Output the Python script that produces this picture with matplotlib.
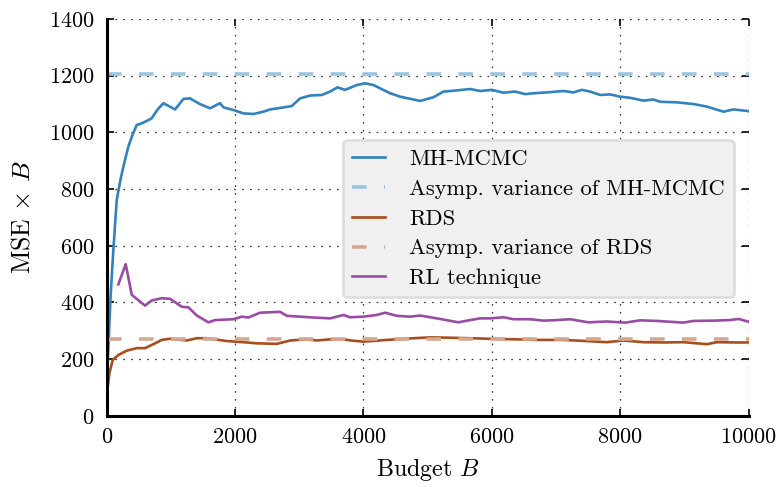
import matplotlib
matplotlib.use("Agg")
import matplotlib.pyplot as plt

plt.rcParams['font.family'] = ['cmr10', 'DejaVu Serif']
plt.rcParams['mathtext.fontset'] = 'cm'
plt.rcParams['axes.unicode_minus'] = False
plt.rcParams['axes.formatter.use_mathtext'] = True
plt.rcParams['lines.scale_dashes'] = False

# MH-MCMC estimator
mh_budget = [10, 60, 103, 156, 220, 285, 337, 400, 467, 545, 620, 701, 790, 883,
             1065, 1195, 1299, 1450, 1610, 1766, 1820, 1974, 2130, 2285, 2441,
             2545, 2753, 2883, 3012, 3168, 3350, 3480, 3594, 3714, 3896, 4025,
             4155, 4415, 4571, 4779, 4883, 5090, 5246, 5402, 5662, 5818, 6000,
             6181, 6363, 6519, 6648, 6907, 7116, 7271, 7401, 7531, 7687, 7843,
             7998, 8154, 8362, 8518, 8622, 8882, 9142, 9350, 9609, 9765, 10000]
mh_mse = [160, 420, 585, 762, 840, 903, 950, 990, 1026, 1032, 1040, 1050, 1080, 1103,
          1081, 1118, 1120, 1100, 1085, 1103, 1088, 1079, 1067, 1065, 1073,
          1081, 1088, 1093, 1120, 1130, 1132, 1144, 1159, 1150, 1167, 1173,
          1167, 1138, 1126, 1116, 1111, 1124, 1144, 1147, 1153, 1146, 1150,
          1140, 1144, 1135, 1138, 1142, 1146, 1141, 1150, 1144, 1132, 1134,
          1126, 1122, 1112, 1116, 1108, 1106, 1100, 1091, 1073, 1081, 1075]

# RDS estimator
rds_budget = [10, 41, 93, 181, 311, 467, 597, 727, 857, 986, 1247, 1403, 1558,
              1870, 2130, 2337, 2649, 2857, 3117, 3273, 3480, 3687, 3800, 3999,
              4363, 4779, 5038, 5298, 5662, 5974, 6389, 6700, 7116, 7480, 7791,
              8051, 8362, 8674, 8985, 9350, 9506, 9818, 10000]
rds_mse = [92, 150, 197, 215, 230, 239, 239, 253, 268, 272, 266, 274, 274,
           264, 260, 256, 254, 266, 270, 266, 270, 270, 266, 262,
           268, 274, 277, 276, 274, 272, 270, 268, 268, 264, 260,
           266, 260, 259, 260, 253, 260, 259, 259]

# RL technique
rl_budget = [181, 296, 390, 597, 701, 857, 986, 1169, 1273, 1403, 1584, 1688,
             1974, 2104, 2208, 2389, 2701, 2805, 3220, 3480, 3687, 3791, 3999,
             4207, 4337, 4519, 4727, 4883, 5194, 5479, 5662, 5818, 5974, 6181,
             6337, 6596, 6804, 7012, 7220, 7505, 7791, 8077, 8311, 8570, 8985,
             9141, 9453, 9713, 9843, 10000]
rl_mse = [464, 535, 427, 389, 407, 415, 413, 385, 383, 354, 330, 338,
          341, 350, 347, 364, 367, 353, 347, 344, 356, 348, 350,
          356, 364, 353, 350, 354, 342, 330, 338, 344, 344, 348,
          341, 341, 336, 338, 341, 330, 333, 329, 337, 335, 329,
          335, 336, 338, 342, 332]

asym_budget = [0, 10000]
asym_mh = 1205
asym_rds = 271

x_ticks = [0, 2000, 4000, 6000, 8000, 10000]
y_ticks = [0, 200, 400, 600, 800, 1000, 1200, 1400]

fig = plt.figure(figsize=(7.79, 4.87), dpi=100)
ax = fig.add_axes([0.137, 0.146, 0.824, 0.815])

ax.plot(mh_budget, mh_mse, color='#3182bd', lw=1.9, label='MH-MCMC')
ax.plot(asym_budget, [asym_mh, asym_mh], color='#9cc2e2', lw=2.6,
        dashes=(10.5, 12.5), label='Asymp. variance of MH-MCMC')
ax.plot(rds_budget, rds_mse, color='#a84d1c', lw=1.9, label='RDS')
ax.plot(asym_budget, [asym_rds, asym_rds], color='#d5a78e', lw=2.6,
        dashes=(10.5, 12.5), label='Asymp. variance of RDS')
ax.plot(rl_budget, rl_mse, color='#9a4ba6', lw=1.9, label='RL technique')

ax.set_xlim(0, 10000)
ax.set_ylim(0, 1400)
ax.set_xticks(x_ticks)
ax.set_yticks(y_ticks)
ax.grid(True, color='#333333', linestyle=(0, (1.2, 4.5)), lw=0.9)

for side in ['top', 'right']:
    ax.spines[side].set_visible(False)
for side in ['left', 'bottom']:
    ax.spines[side].set_linewidth(2.2)
    ax.spines[side].set_color('black')
ax.tick_params(direction='in', length=5, width=1.2, top=True, right=True,
               labelsize=16)
ax.tick_params(axis='y', pad=9)
ax.tick_params(axis='x', pad=8)

ax.set_xlabel(r'Budget $B$', fontsize=17.3, labelpad=7)
ax.set_ylabel(r'MSE $\times$ $B$', fontsize=18.5, labelpad=10)

leg = ax.legend(loc='upper left', bbox_to_anchor=(0.368, 0.695), fontsize=16.2,
                frameon=True, fancybox=True, facecolor='#f0f0f0',
                edgecolor='#dcdcdc', framealpha=1.0, handlelength=1.45,
                handletextpad=1.1, labelspacing=0.45, borderpad=0.4,
                borderaxespad=0.0)
leg.get_frame().set_linewidth(1.8)

fig.savefig('out.png', dpi=100)
